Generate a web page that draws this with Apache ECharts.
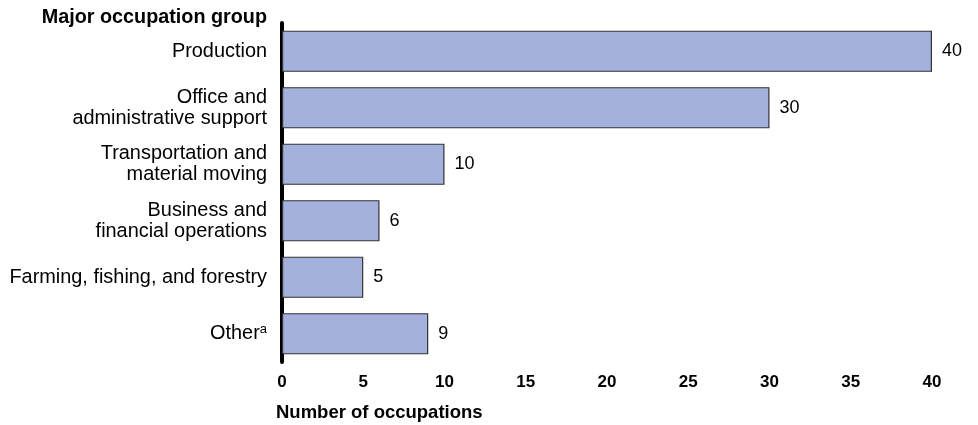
<!DOCTYPE html>
<html>
<head>
<meta charset="utf-8">
<script src="https://cdn.jsdelivr.net/npm/echarts@6/dist/echarts.min.js"></script>
<style>
  html, body { margin: 0; padding: 0; background: #fff; }
  #chart { width: 978px; height: 425px; }
</style>
</head>
<body>
<div id="chart"></div>
<script>
// 数据
const categories = [
  'Production',
  'Office and\nadministrative support',
  'Transportation and\nmaterial moving',
  'Business and\nfinancial operations',
  'Farming, fishing, and forestry',
  'Other'
]
const occupations = [40, 30, 10, 6, 5, 9]
const xTicks = [0, 5, 10, 15, 20, 25, 30, 35, 40]

const font = '"Liberation Sans", Arial, sans-serif'

const chart = echarts.init(document.getElementById('chart'))

chart.setOption({
  backgroundColor: '#fff',
  animation: false,
  textStyle: { fontFamily: font },
  title: [
    {
      text: 'Major occupation group',
      right: 711,
      top: 8,
      padding: 0,
      textStyle: { fontFamily: font, fontSize: 19.8, fontWeight: 'bold', color: '#000' }
    },
    {
      text: 'Number of occupations',
      left: 276,
      top: 403,
      padding: 0,
      textStyle: { fontFamily: font, fontSize: 18.5, fontWeight: 'bold', color: '#000' }
    }
  ],
  grid: { left: 282, right: 46, top: 23, bottom: 63 },
  xAxis: {
    type: 'value',
    min: xTicks[0],
    max: xTicks[xTicks.length - 1],
    interval: 5,
    axisLine: { show: false },
    axisTick: { show: false },
    splitLine: { show: false },
    axisLabel: {
      margin: 12,
      fontFamily: font,
      fontSize: 17,
      fontWeight: 'bold',
      color: '#000'
    }
  },
  yAxis: {
    type: 'category',
    inverse: true,
    data: categories,
    axisLine: { show: true, lineStyle: { color: '#000', width: 4 } },
    axisTick: { show: false },
    axisLabel: {
      margin: 15,
      fontFamily: font,
      fontSize: 19.9,
      lineHeight: 21,
      color: '#000',
      align: 'right',
      formatter: (v) => (v === 'Other' ? 'Other{sup|a}' : v),
      rich: {
        sup: { fontFamily: font, fontSize: 13, color: '#000', verticalAlign: 'top', padding: [0, 0, 12, 0] }
      }
    }
  },
  series: [
    {
      type: 'bar',
      data: occupations,
      barCategoryGap: '27%',
      itemStyle: { color: '#a4b1dc', borderColor: '#333', borderWidth: 1.2 },
      label: {
        show: true,
        position: 'right',
        distance: 10,
        fontFamily: font,
        fontSize: 18,
        color: '#000'
      }
    }
  ]
})
</script>
</body>
</html>
